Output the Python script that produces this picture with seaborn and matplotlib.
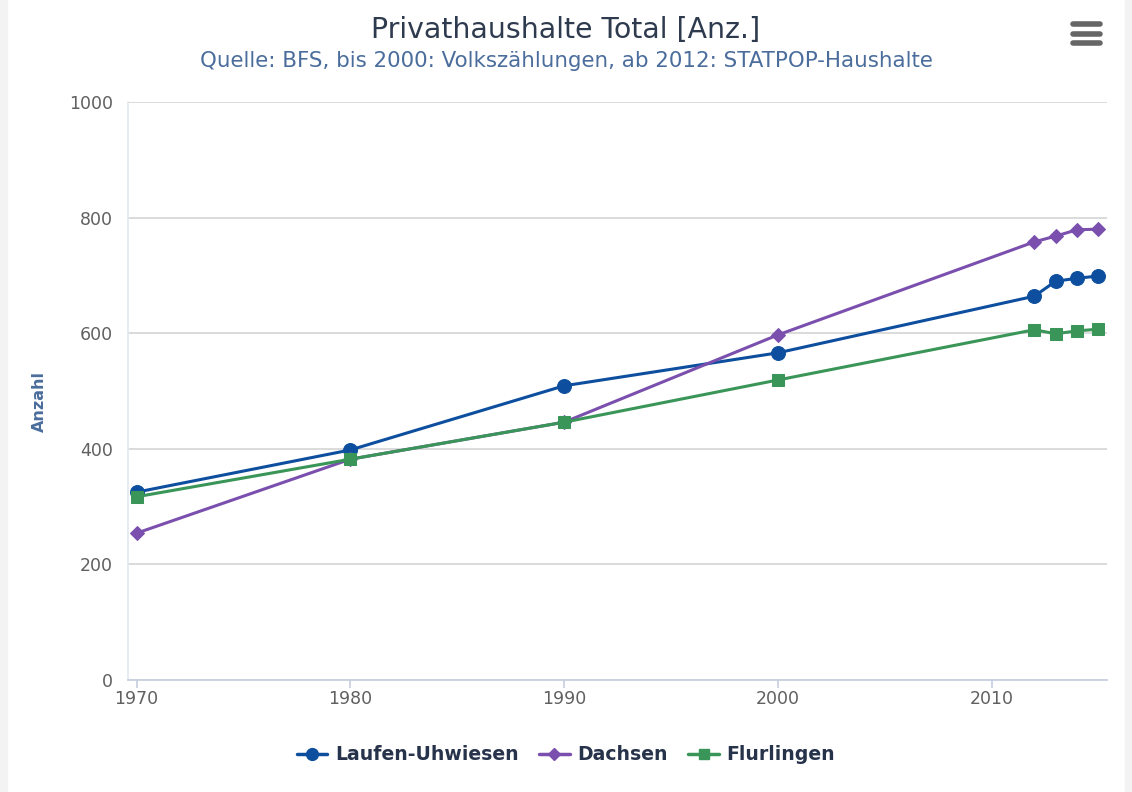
import matplotlib
matplotlib.use("Agg")
import matplotlib.pyplot as plt
import seaborn as sns
import pandas as pd
from matplotlib.lines import Line2D
from matplotlib.patches import Rectangle

years = [1970, 1980, 1990, 2000, 2012, 2013, 2014, 2015]
laufen = [325, 398, 509, 566, 664, 690, 695, 699]
dachsen = [254, 382, 446, 597, 758, 768, 779, 780]
flurlingen = [317, 382, 446, 519, 606, 599, 604, 607]
series_names = ["Laufen-Uhwiesen", "Dachsen", "Flurlingen"]
colors = ["#0d4f9e", "#7a4fae", "#3a9558"]
markers = ["o", "D", "s"]
msizes = [10, 7, 9]

rows = []
for name, vals in zip(series_names, [laufen, dachsen, flurlingen]):
    for y, v in zip(years, vals):
        rows.append({"Jahr": y, "Anzahl": v, "Gemeinde": name})
df = pd.DataFrame(rows)

sns.set_theme(style="white")
plt.rcParams["font.family"] = ["DejaVu Sans"]

fig = plt.figure(figsize=(11.32, 7.92), dpi=100)
ax = fig.add_axes([128/1132, 112/792, (1107-128)/1132, (680-102)/792])

for name, c, m, ms in zip(series_names, colors, markers, msizes):
    sub = df[df["Gemeinde"] == name]
    sns.lineplot(data=sub, x="Jahr", y="Anzahl", ax=ax, color=c, marker=m,
                 markersize=ms, markeredgecolor=c, linewidth=2.2, legend=False)

ax.set_xlim(1970 - 0.4, 2015.4)
ax.set_ylim(0, 1000)
ax.set_yticks([0, 200, 400, 600, 800, 1000])
ax.set_xticks([1970, 1980, 1990, 2000, 2010])
ax.grid(axis="y", color="#d8d8d8", linewidth=1.3)
ax.set_axisbelow(True)
for s in ["top", "right"]:
    ax.spines[s].set_visible(False)
ax.spines["left"].set_color("#e3e8f0")
ax.spines["left"].set_linewidth(1.2)
ax.spines["bottom"].set_color("#c6d0de")
ax.spines["bottom"].set_linewidth(1.3)
ax.tick_params(axis="y", colors="#606060", labelsize=12.5, length=0, pad=11)
ax.tick_params(axis="x", colors="#606060", labelsize=12.5, length=6, color="#c6d0de", direction="out", bottom=True, pad=1)
ax.set_xlabel("")
ax.set_ylabel("Anzahl", color="#4a6d9c", fontsize=11.5, fontweight="bold")
ax.yaxis.set_label_coords(-0.083, 0.481)

fig.text(0.5, 0.962, "Privathaushalte Total [Anz.]", ha="center", va="center",
         fontsize=20.4, color="#2e3a4e")
fig.text(0.5, 0.923, "Quelle: BFS, bis 2000: Volkszählungen, ab 2012: STATPOP-Haushalte",
         ha="center", va="center", fontsize=15.4, color="#4a6d9c")

# hamburger menu icon
for yy in [24, 34, 43]:
    fig.add_artist(Line2D([1073/1132, 1100/1132], [1 - yy/792, 1 - yy/792],
                          color="#666666", linewidth=4, solid_capstyle="round"))

# light frame edges
fig.add_artist(Rectangle((0, 0), 7/1132, 1, transform=fig.transFigure, color="#f3f3f3", zorder=0))
fig.add_artist(Rectangle((1125/1132, 0), 7/1132, 1, transform=fig.transFigure, color="#f3f3f3", zorder=0))

handles = [Line2D([0], [0], color=c, marker=m, markersize=ms * 0.85, markeredgecolor=c,
                  linewidth=2.5) for c, m, ms in zip(colors, markers, msizes)]
leg = fig.legend(handles, series_names, loc="center", bbox_to_anchor=(0.5, 1 - 755/792),
                 ncol=3, frameon=False, handlelength=1.6, columnspacing=1.1,
                 handletextpad=0.4, prop={"size": 13.6, "weight": "bold"})
for t in leg.get_texts():
    t.set_color("#27334a")

fig.savefig("out.png", dpi=100)
